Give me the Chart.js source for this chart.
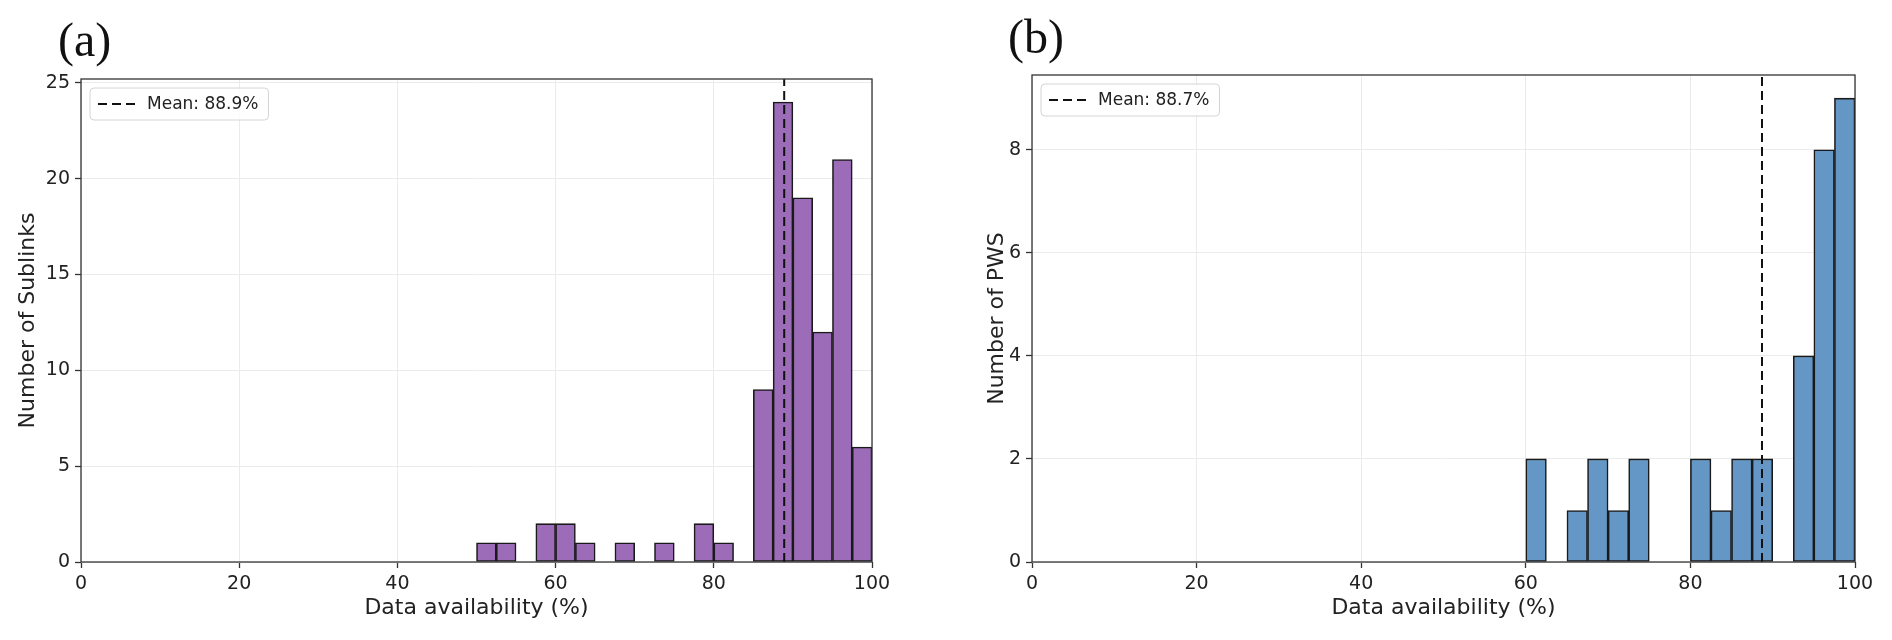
<!DOCTYPE html>
<html lang="en">
<head>
  <meta charset="UTF-8">
  <title>Data availability histograms</title>
  <script src="https://cdn.jsdelivr.net/npm/chart.js"></script>
  <style>
    body {
      margin: 0;
      width: 1892px;
      height: 640px;
      overflow: hidden;
      position: relative;
      background: #fff;
      font-family: 'DejaVu Sans', sans-serif;
    }
    .panel {
      position: absolute;
      top: 0;
      width: 946px;
      height: 640px;
    }
    .tag {
      position: absolute;
      font-family: 'Liberation Serif', serif;
      font-size: 48px;
      line-height: 1;
      color: #111;
    }
  </style>
</head>
<body>
  <div class="panel" style="left:0"><canvas id="chartA"></canvas></div>
  <div class="panel" style="left:946px"><canvas id="chartB"></canvas></div>
  <div class="tag" style="left:58px; top:16px">(a)</div>
  <div class="tag" style="left:1008px; top:13px">(b)</div>

  <script>
    const binWidth = 2.5;

    // (a) sublinks: left edge of each non-empty bin and its count
    const binsA = [50, 52.5, 57.5, 60, 62.5, 67.5, 72.5, 77.5, 80, 85, 87.5, 90, 92.5, 95, 97.5];
    const countsA = [1, 1, 2, 2, 1, 1, 1, 2, 1, 9, 24, 19, 12, 21, 6];
    const meanA = 88.9;

    // (b) PWS
    const binsB = [60, 65, 67.5, 70, 72.5, 80, 82.5, 85, 87.5, 92.5, 95, 97.5];
    const countsB = [2, 1, 2, 1, 2, 2, 1, 2, 2, 4, 8, 9];
    const meanB = 88.7;

    Chart.defaults.font.family = "'DejaVu Sans', sans-serif";
    Chart.defaults.color = '#222';

    // box round the plot area plus the small legend in its top left corner
    const frameAndLegend = {
      id: 'frameAndLegend',
      afterDraw(chart, args, opts) {
        const { ctx, chartArea: a } = chart;
        ctx.save();
        ctx.strokeStyle = '#333';
        ctx.lineWidth = 1.3;
        ctx.strokeRect(a.left, a.top, a.right - a.left, a.bottom - a.top);

        ctx.font = "17px 'DejaVu Sans'";
        const tw = ctx.measureText(opts.text).width;
        const x = a.left + 9, y = a.top + 9, w = 57 + tw + 10, h = 32;
        ctx.beginPath();
        ctx.roundRect(x, y, w, h, 4);
        ctx.fillStyle = 'rgba(255,255,255,0.8)';
        ctx.fill();
        ctx.strokeStyle = '#d4d4d4';
        ctx.lineWidth = 1;
        ctx.stroke();

        ctx.beginPath();
        ctx.setLineDash([9, 5]);
        ctx.moveTo(x + 8, y + h / 2);
        ctx.lineTo(x + 45, y + h / 2);
        ctx.strokeStyle = '#111';
        ctx.lineWidth = 2;
        ctx.stroke();
        ctx.setLineDash([]);

        ctx.fillStyle = '#222';
        ctx.textBaseline = 'middle';
        ctx.fillText(opts.text, x + 57, y + h / 2 + 1);
        ctx.restore();
      }
    };

    function makeHist(id, bins, counts, mean, yMax, yStep, yTitle, color, lay) {
      const bars = bins.map((b, i) => ({ x: b + binWidth / 2, y: counts[i] }));
      return new Chart(document.getElementById(id), {
        type: 'bar',
        data: {
          datasets: [
            {
              type: 'line',
              data: [{ x: mean, y: 0 }, { x: mean, y: yMax }],
              borderColor: '#111',
              borderWidth: 2,
              borderDash: [9, 5],
              pointRadius: 0,
              order: 0
            },
            {
              data: bars,
              backgroundColor: color,
              borderColor: '#1a1a1a',
              borderWidth: 1.6,
              borderSkipped: false,
              barPercentage: 1,
              categoryPercentage: 1,
              order: 1
            }
          ]
        },
        options: {
          responsive: true,
          maintainAspectRatio: false,
          animation: false,
          layout: { padding: { top: lay.top, right: lay.right, left: 0, bottom: 0 } },
          plugins: {
            legend: { display: false },
            tooltip: { enabled: false },
            frameAndLegend: { text: 'Mean: ' + mean.toFixed(1) + '%' }
          },
          scales: {
            x: {
              type: 'linear',
              min: 0,
              max: 100,
              offset: false,
              ticks: { stepSize: 20, padding: 5, maxRotation: 0, font: { size: 19 } },
              grid: { color: '#ebebeb', offset: false, tickLength: 6, tickColor: '#333', tickWidth: 1.3 },
              border: { display: false },
              title: {
                display: true,
                text: 'Data availability (%)',
                font: { size: 22 },
                padding: { top: 0, bottom: 19 }
              },
              afterFit: s => { s.height = 640 - 562; }
            },
            y: {
              min: 0,
              max: yMax,
              ticks: { stepSize: yStep, includeBounds: false, padding: 5, font: { size: 19 } },
              afterBuildTicks: s => { s.ticks = s.ticks.filter(t => t.value % yStep === 0); },
              grid: { color: '#ebebeb', tickLength: 6, tickColor: '#333', tickWidth: 1.3 },
              border: { display: false },
              title: {
                display: true,
                text: yTitle,
                font: { size: 22 },
                padding: { top: lay.titlePad, bottom: 0 }
              },
              afterFit: s => { s.width = lay.axisWidth; }
            }
          }
        },
        plugins: [frameAndLegend]
      });
    }

    makeHist('chartA', binsA, countsA, meanA, 25.2, 5, 'Number of Sublinks', 'rgb(157,108,185)',
      { top: 79, right: 74, axisWidth: 81, titlePad: 15 });
    makeHist('chartB', binsB, countsB, meanB, 9.45, 2, 'Number of PWS', 'rgb(100,151,197)',
      { top: 75, right: 37, axisWidth: 86, titlePad: 38 });
  </script>
</body>
</html>
